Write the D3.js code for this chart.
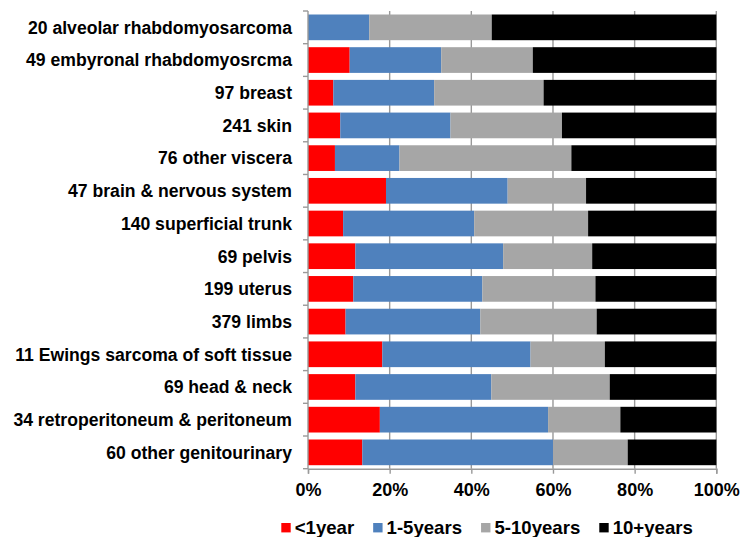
<!DOCTYPE html>
<html>
<head>
<meta charset="utf-8">
<script src="https://cdn.jsdelivr.net/npm/d3@7/dist/d3.min.js"></script>
<style>
  html, body { margin: 0; padding: 0; background: #fff; }
  svg { display: block; font-family: "Liberation Sans", Arial, sans-serif; font-weight: bold; }
</style>
</head>
<body>
<svg id="chart" width="742" height="537"></svg>
<script>
// Sites (case counts in the label), top to bottom
const categories = [
  "20 alveolar rhabdomyosarcoma",
  "49 embyronal rhabdomyosrcma",
  "97 breast",
  "241 skin",
  "76 other viscera",
  "47 brain & nervous system",
  "140 superficial trunk",
  "69 pelvis",
  "199 uterus",
  "379 limbs",
  "11 Ewings sarcoma of soft tissue",
  "69 head & neck",
  "34 retroperitoneum & peritoneum",
  "60 other genitourinary"
];

// Share of cases (%) in each survival band
const under1Year   = [0.0, 10.2, 6.2, 7.9, 6.6, 19.1, 8.6, 11.6, 11.1, 9.2, 18.2, 11.6, 17.6, 13.3];
const years1to5    = [15.0, 22.4, 24.7, 27.0, 15.8, 29.8, 32.1, 36.2, 31.6, 33.0, 36.3, 33.3, 41.2, 46.7];
const years5to10   = [30.0, 22.4, 26.8, 27.3, 42.1, 19.2, 27.9, 21.8, 27.7, 28.5, 18.2, 29.0, 17.7, 18.3];
const over10Years  = [55.0, 44.9, 42.3, 37.8, 35.5, 31.9, 31.4, 30.4, 29.6, 29.3, 27.3, 26.1, 23.5, 21.7];

const seriesNames  = ["<1year", "1-5years", "5-10years", "10+years"];
const seriesColors = ["#FF0000", "#4F81BD", "#A6A6A6", "#000000"];
const xTicks = [0, 0.2, 0.4, 0.6, 0.8, 1.0];

const svg = d3.select("#chart");
const margin = { top: 11, right: 25.7, bottom: 68.3, left: 308 };
const W = 742, H = 537;

const rows = categories.map((c, i) => ({
  cat: c,
  "<1year": under1Year[i],
  "1-5years": years1to5[i],
  "5-10years": years5to10[i],
  "10+years": over10Years[i]
}));

const stacked = d3.stack().keys(seriesNames).offset(d3.stackOffsetExpand)(rows);

const x = d3.scaleLinear().domain([0, 1]).range([margin.left, W - margin.right]);
const y = d3.scaleBand().domain(categories)
  .range([margin.top, H - margin.bottom])
  .paddingInner(0.214).paddingOuter(0.107);
const color = d3.scaleOrdinal().domain(seriesNames).range(seriesColors);

// vertical gridlines
svg.append("g").selectAll("line").data(xTicks.slice(1)).join("line")
  .attr("x1", d => x(d)).attr("x2", d => x(d))
  .attr("y1", margin.top).attr("y2", H - margin.bottom)
  .attr("stroke", "#999").attr("stroke-width", 1.4);

// stacked bars
svg.append("g").selectAll("g").data(stacked).join("g")
  .attr("fill", d => color(d.key))
  .selectAll("rect").data(d => d).join("rect")
  .attr("x", d => x(d[0]))
  .attr("width", d => Math.max(0, x(d[1]) - x(d[0])))
  .attr("y", d => y(d.data.cat))
  .attr("height", y.bandwidth());

// x axis
const xAxis = svg.append("g")
  .attr("transform", `translate(0,${H - margin.bottom})`)
  .call(d3.axisBottom(x).tickValues(xTicks).tickFormat(d3.format(".0%")).tickSize(5).tickPadding(10));
xAxis.select(".domain").attr("stroke", "#999").attr("stroke-width", 1.4);
xAxis.selectAll(".tick line").attr("stroke", "#999").attr("stroke-width", 1.4);
xAxis.selectAll(".tick text")
  .attr("font-size", 18).attr("font-weight", "bold").attr("fill", "#000")
  .attr("font-family", "Liberation Sans, Arial, sans-serif");

// y axis: line with ticks at band boundaries
const step = y.step();
const yTop = margin.top, yBot = H - margin.bottom;
const yAxis = svg.append("g");
yAxis.append("line")
  .attr("x1", x(0)).attr("x2", x(0)).attr("y1", yTop).attr("y2", yBot)
  .attr("stroke", "#999").attr("stroke-width", 1.4);
yAxis.selectAll("line.tick").data(d3.range(categories.length + 1)).join("line")
  .attr("class", "tick")
  .attr("x1", x(0) - 5).attr("x2", x(0))
  .attr("y1", i => yTop + i * step).attr("y2", i => yTop + i * step)
  .attr("stroke", "#999").attr("stroke-width", 1.4);
yAxis.selectAll("text").data(categories).join("text")
  .attr("x", x(0) - 16)
  .attr("y", d => y(d) + y.bandwidth() / 2)
  .attr("dy", "0.36em")
  .attr("text-anchor", "end")
  .attr("font-size", 17.6)
  .attr("fill", "#000")
  .text(d => d);

// legend along the bottom edge
const legend = svg.append("g");
let lx = 281.3;
const ly = 523;
seriesNames.forEach(name => {
  legend.append("rect")
    .attr("x", lx).attr("y", ly).attr("width", 9.4).attr("height", 9.4)
    .attr("fill", color(name));
  const t = legend.append("text")
    .attr("x", lx + 13.4).attr("y", ly + 10.8)
    .attr("font-size", 18.6).attr("fill", "#000")
    .text(name);
  lx = lx + 13.4 + t.node().getComputedTextLength() + 19;
});
</script>
</body>
</html>
